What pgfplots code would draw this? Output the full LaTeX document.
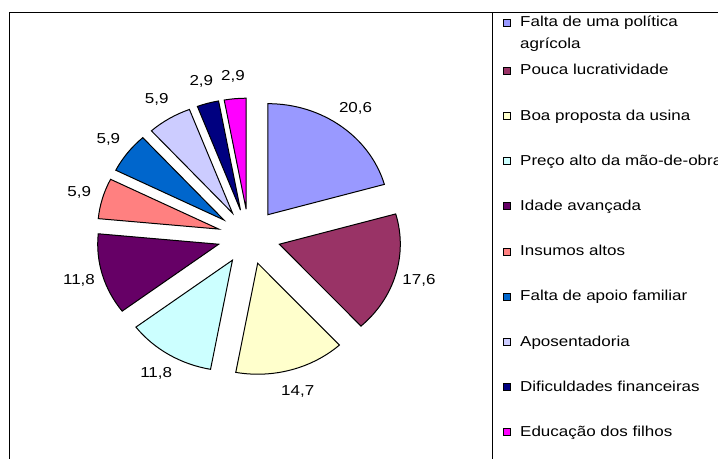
\documentclass[border=0pt]{standalone}
\usepackage{fontspec}
\setmainfont{Liberation Sans}[FakeStretch=1.18]
\usepackage{pgfplots}
\pgfplotsset{compat=1.18}

\definecolor{cA}{HTML}{9999FF}
\definecolor{cB}{HTML}{993366}
\definecolor{cC}{HTML}{FFFFCC}
\definecolor{cD}{HTML}{CCFFFF}
\definecolor{cE}{HTML}{660066}
\definecolor{cF}{HTML}{FF8080}
\definecolor{cG}{HTML}{0066CC}
\definecolor{cH}{HTML}{CCCCFF}
\definecolor{cI}{HTML}{000080}
\definecolor{cJ}{HTML}{FF00FF}

\newcommand\lblfont{\fontsize{7.2pt}{8.6pt}\selectfont}

\begin{document}
\begin{tikzpicture}
\begin{axis}[
  scale only axis, width=359pt, height=229.5pt,
  xmin=0, xmax=718, ymin=0, ymax=459,
  hide axis, clip=false,
  legend image code/.code={\draw[#1,line width=0.4pt] (0pt,0.3pt) rectangle (3.5pt,3.8pt);},
  legend style={draw=none, fill=none, inner sep=0pt, at={(axis cs:503,444.5)}, anchor=north west,
    row sep=0pt, column sep=4.5pt, font=\lblfont,
    nodes={inner sep=0pt, text height=6pt}, cells={anchor=base west}},
]
% frame of the chart area
\draw[line width=0.6pt] (axis cs:9.6,-10) -- (axis cs:9.6,446.6) -- (axis cs:740,446.6);
\draw[line width=0.5pt] (axis cs:492.3,446.6) -- (axis cs:492.3,-10);
\coordinate (LL) at (axis cs:0,0);
\coordinate (UR) at (axis cs:718,459);

% exploded pie, clockwise from 12 o'clock
\xdef\angA{90}
\foreach \v/\c in {20.6/cA, 17.6/cB, 14.7/cC, 11.8/cD, 11.8/cE, 5.9/cF, 5.9/cG, 5.9/cH, 2.9/cI, 2.9/cJ}{
  \pgfmathsetmacro\angB{\angA-3.6*\v}
  \pgfmathsetmacro\mid{(\angA+\angB)/2}
  \pgfmathsetmacro\ax{249+31.5*cos(\mid)}
  \pgfmathsetmacro\ay{222.3+27.6*sin(\mid)}
  \pgfmathsetmacro\sx{\ax+121*cos(\angA)}
  \pgfmathsetmacro\sy{\ay+111*sin(\angA)}
  \pgfmathsetmacro\lx{\ax+1.2*121*cos(\mid)}
  \pgfmathsetmacro\ly{\ay+1.2*111*sin(\mid)}
  \edef\temp{\noexpand\draw[fill=\c,line width=0.5pt] (axis cs:\ax,\ay) -- (axis cs:\sx,\sy)
      arc[start angle=\angA, end angle=\angB, x radius=60.5pt, y radius=55.5pt] -- cycle;
    \noexpand\node[font=\noexpand\lblfont, inner sep=0pt] at (axis cs:\lx,\ly)
      {\noexpand\pgfmathprintnumber[use comma, fixed, precision=1, assume math mode=true]{\v}};}
  \temp
  \xdef\angA{\angB}
}

\addlegendimage{fill=cA,draw=black}
\addlegendentry[text depth=4.75pt]{Falta de uma política}
\addlegendimage{empty legend}
\addlegendentry[text depth=7.25pt]{agrícola}
\addlegendimage{fill=cB,draw=black}
\addlegendentry[text depth=16.6pt]{Pouca lucratividade}
\addlegendimage{fill=cC,draw=black}
\addlegendentry[text depth=16.6pt]{Boa proposta da usina}
\addlegendimage{fill=cD,draw=black}
\addlegendentry[text depth=16.6pt]{Preço alto da mão-de-obra}
\addlegendimage{fill=cE,draw=black}
\addlegendentry[text depth=16.6pt]{Idade avançada}
\addlegendimage{fill=cF,draw=black}
\addlegendentry[text depth=16.6pt]{Insumos altos}
\addlegendimage{fill=cG,draw=black}
\addlegendentry[text depth=16.6pt]{Falta de apoio familiar}
\addlegendimage{fill=cH,draw=black}
\addlegendentry[text depth=16.6pt]{Aposentadoria}
\addlegendimage{fill=cI,draw=black}
\addlegendentry[text depth=16.6pt]{Dificuldades financeiras}
\addlegendimage{fill=cJ,draw=black}
\addlegendentry[text depth=2pt]{Educação dos filhos}
\end{axis}
\pgfresetboundingbox
\path[use as bounding box] (LL) rectangle (UR);
\end{tikzpicture}
\end{document}
